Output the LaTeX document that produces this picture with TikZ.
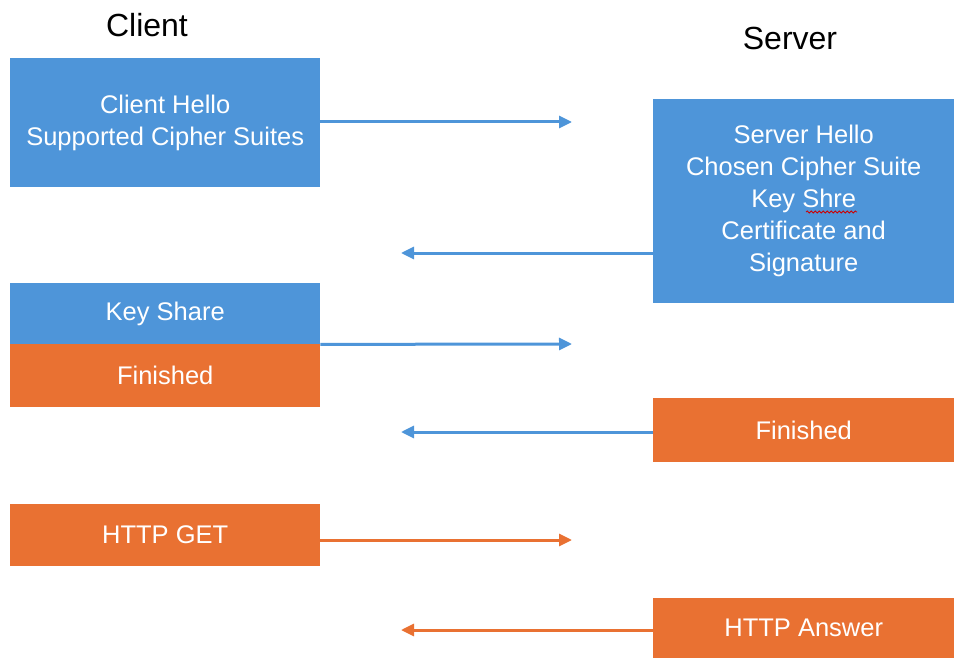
\documentclass[tikz,border=0pt]{standalone}
\usepackage{fontspec}
\setmainfont{Liberation Sans}
\usetikzlibrary{arrows.meta,decorations.pathmorphing}
\definecolor{msgblue}{HTML}{4E95D9}
\definecolor{msgorange}{HTML}{E97132}
\begin{document}
\begin{tikzpicture}[x=1pt,y=-1pt,
  msgbox/.style={anchor=north west, inner sep=0pt, text=white,
    align=center, font=\fontsize{25.5}{32}\selectfont},
  bluebox/.style={msgbox, fill=msgblue},
  orangebox/.style={msgbox, fill=msgorange},
  title/.style={font=\fontsize{32}{38}\selectfont, text=black},
  arr/.style={line width=3pt, -{Triangle[length=13pt,width=12pt]}},
  bluearr/.style={arr, draw=msgblue},
  orangearr/.style={arr, draw=msgorange}]
\useasboundingbox (0,0) rectangle (954,658);

% column titles
\node[title] (client) at (147,25) {Client};
\node[title] (server) at (790,38) {Server};

% client messages
\node[bluebox, minimum width=310pt, minimum height=129pt] (ch) at (10,58)
  {\rule{0pt}{4pt}Client Hello\\Supported Cipher Suites};
\node[bluebox, minimum width=310pt, minimum height=61pt] (ks) at (10,283)
  {Key Share};
\node[orangebox, minimum width=310pt, minimum height=63pt] (cf) at (10,344)
  {Finished};
\node[orangebox, minimum width=310pt, minimum height=62pt] (get) at (10,504)
  {HTTP GET};

% server messages
\node[bluebox, minimum width=301pt, minimum height=204pt] (sh) at (653,99)
  {Server Hello\\Chosen Cipher Suite\\Key Shre\\Certificate and\\Signature};
\node[orangebox, minimum width=301pt, minimum height=64pt] (sf) at (653,398)
  {Finished};
\node[orangebox, minimum width=301pt, minimum height=60pt] (ans) at (653,598)
  {HTTP Answer};

% spell-check squiggle under "Shre"
\draw[red!80!black, line width=0.8pt, decorate,
  decoration={snake, amplitude=1pt, segment length=4pt}] (806,212) -- (857,212);

% arrow end points
\coordinate (e1) at (572,122);
\coordinate (e2) at (401,253);
\coordinate (e3) at (572,344);
\coordinate (e4) at (401,432);
\coordinate (e5) at (572,540);
\coordinate (e6) at (401,630);

% message flow
\draw[bluearr] (ch.east |- e1) -- (e1);
\draw[bluearr] (sh.west |- e2) -- (e2);
\draw[bluearr] (ks.south east) -- (e3);
\draw[bluearr] (sf.west |- e4) -- (e4);
\draw[orangearr] (get.east |- e5) -- (e5);
\draw[orangearr] (ans.west |- e6) -- (e6);
\end{tikzpicture}
\end{document}
